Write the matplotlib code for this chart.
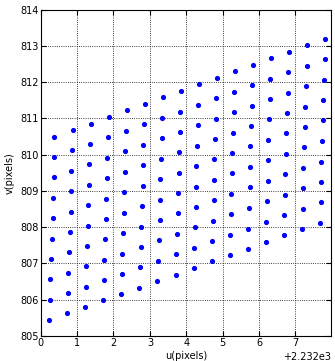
import numpy as np
import matplotlib
matplotlib.use('Agg')
from matplotlib import pyplot as plt

# image points, read column by column (u minus offset, v)
u_offset = 2232
u_cols = [
    [0.374, 0.370, 0.358, 0.347, 0.325, 0.307, 0.287, 0.268, 0.252, 0.237],
    [0.881, 0.862, 0.845, 0.836, 0.820, 0.798, 0.779, 0.760, 0.743, 0.732],
    [1.376, 1.357, 1.338, 1.329, 1.310, 1.294, 1.274, 1.255, 1.247, 1.228],
    [1.872, 1.852, 1.833, 1.825, 1.806, 1.789, 1.770, 1.751, 1.734, 1.715],
    [2.367, 2.348, 2.329, 2.312, 2.301, 2.285, 2.265, 2.246, 2.230, 2.210],
    [2.863, 2.843, 2.824, 2.808, 2.797, 2.780, 2.761, 2.742, 2.725, 2.706],
    [3.358, 3.339, 3.320, 3.303, 3.290, 3.280, 3.264, 3.248, 3.229, 3.209],
    [3.854, 3.834, 3.815, 3.799, 3.787, 3.779, 3.760, 3.743, 3.724, 3.705],
    [4.349, 4.330, 4.310, 4.294, 4.280, 4.270, 4.255, 4.239, 4.220, 4.200],
    [4.844, 4.825, 4.806, 4.789, 4.770, 4.762, 4.751, 4.734, 4.715, 4.696],
    [5.340, 5.321, 5.301, 5.285, 5.266, 5.250, 5.242, 5.230, 5.211, 5.191],
    [5.835, 5.816, 5.797, 5.780, 5.761, 5.745, 5.738, 5.725, 5.706, 5.687],
    [6.331, 6.312, 6.292, 6.276, 6.256, 6.240, 6.234, 6.221, 6.202, 6.182],
    [6.826, 6.807, 6.788, 6.771, 6.752, 6.733, 6.720, 6.712, 6.697, 6.678],
    [7.322, 7.303, 7.283, 7.267, 7.248, 7.228, 7.215, 7.208, 7.193, 7.173],
    [7.817, 7.798, 7.779, 7.762, 7.743, 7.724, 7.710, 7.703, 7.688, 7.669],
]
v_cols = [
    [810.49, 809.93, 809.37, 808.81, 808.24, 807.68, 807.12, 806.56, 805.99, 805.43],
    [810.68, 810.12, 809.55, 808.99, 808.42, 807.86, 807.30, 806.73, 806.17, 805.62],
    [810.85, 810.29, 809.73, 809.17, 808.61, 808.04, 807.48, 806.92, 806.35, 805.79],
    [811.04, 810.48, 809.91, 809.35, 808.78, 808.22, 807.66, 807.10, 806.54, 805.98],
    [811.22, 810.65, 810.09, 809.53, 808.96, 808.40, 807.83, 807.27, 806.71, 806.15],
    [811.40, 810.84, 810.26, 809.71, 809.14, 808.57, 808.01, 807.45, 806.89, 806.32],
    [811.58, 811.01, 810.45, 809.89, 809.33, 808.75, 808.19, 807.63, 807.06, 806.51],
    [811.76, 811.19, 810.63, 810.06, 809.50, 808.94, 808.38, 807.82, 807.26, 806.68],
    [811.94, 811.37, 810.81, 810.25, 809.68, 809.12, 808.56, 807.99, 807.43, 806.87],
    [812.12, 811.55, 810.99, 810.43, 809.87, 809.30, 808.74, 808.17, 807.61, 807.05],
    [812.30, 811.74, 811.17, 810.60, 810.04, 809.48, 808.91, 808.35, 807.79, 807.23],
    [812.48, 811.91, 811.35, 810.79, 810.23, 809.67, 809.10, 808.53, 807.96, 807.40],
    [812.66, 812.10, 811.53, 810.97, 810.40, 809.84, 809.27, 808.71, 808.15, 807.59],
    [812.84, 812.28, 811.71, 811.15, 810.59, 810.02, 809.46, 808.89, 808.33, 807.77],
    [813.02, 812.45, 811.89, 811.32, 810.76, 810.20, 809.64, 809.07, 808.51, 807.95],
    [813.20, 812.64, 812.07, 811.51, 810.95, 810.38, 809.81, 809.25, 808.68, 808.12],
]

u = u_offset + np.array(u_cols).ravel()
v = np.array(v_cols).ravel()

fig = plt.figure(figsize=(3.35, 3.61), dpi=100)
ax = fig.add_axes([0.1215, 0.070, 0.867, 0.903])
ax.plot(u, v, 'o', color='b', mec='b', ms=2.7, ls='none')

ax.set_xlim(u_offset, u_offset + 7.98)
ax.set_ylim(805, 814)
ax.set_xticks(u_offset + np.arange(0, 8))
ax.set_yticks(np.arange(805, 815))
ax.ticklabel_format(axis='x', useOffset=u_offset)
ax.grid(True, color='k', ls=':', lw=0.6)
ax.tick_params(direction='in', top=True, right=True, labelsize=7, length=3.5)
ax.tick_params(axis='x', pad=1.5)
ax.tick_params(axis='y', pad=1.5)
ax.xaxis.get_offset_text().set_fontsize(7)
ax.set_xlabel('u(pixels)', fontsize=7, labelpad=2.5)
ax.set_ylabel('v(pixels)', fontsize=7, labelpad=4)

plt.savefig('out.png', dpi=100)
